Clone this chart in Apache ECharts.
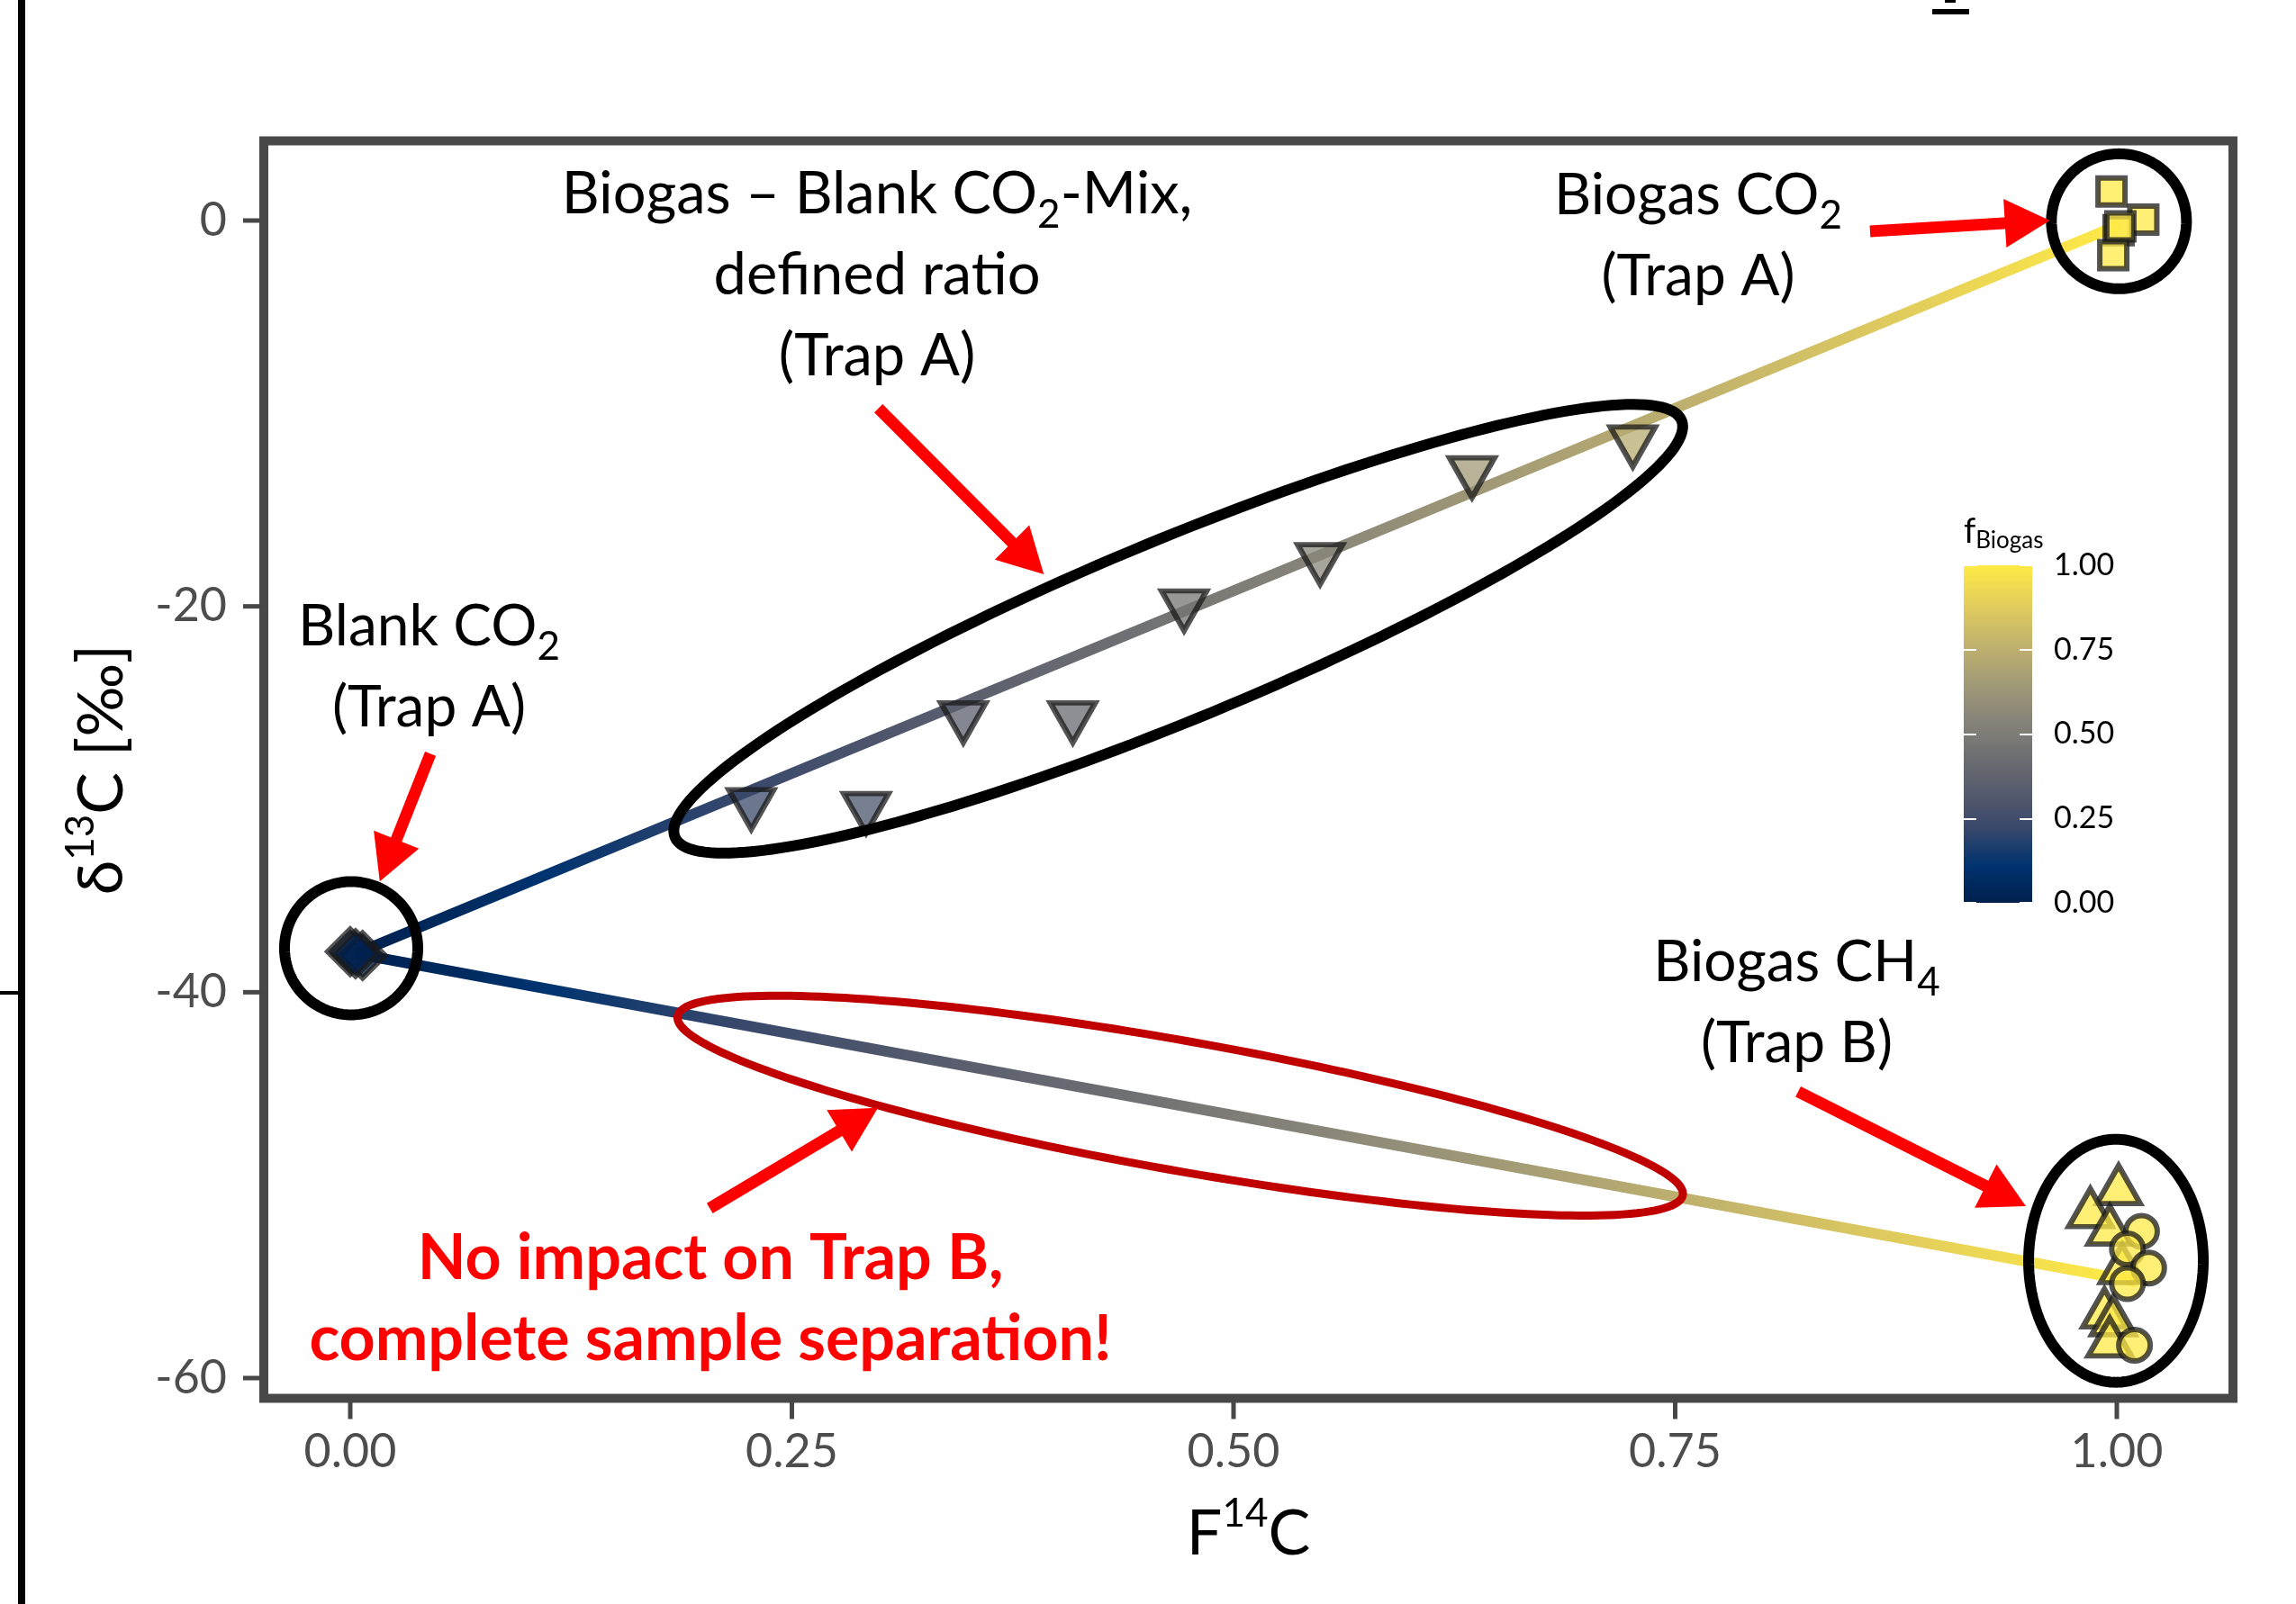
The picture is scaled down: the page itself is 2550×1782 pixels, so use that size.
<!DOCTYPE html>
<html>
<head>
<meta charset="utf-8">
<script src="https://cdn.jsdelivr.net/npm/echarts@6/dist/echarts.min.js"></script>
<style>
html, body { margin: 0; padding: 0; background: #fff; }
#main { width: 2550px; height: 1782px; }
</style>
</head>
<body>
<div id="main"></div>
<script>
// tick labels
var xTicks = [0, 0.25, 0.5, 0.75, 1];
var yTicks = [-60, -40, -20, 0];
var barTicks = [0, 0.25, 0.5, 0.75, 1];
var xRange = [-0.04893, 1.06575];
var yRange = [-61.05, 4.129];

// points: [F14C, d13C, fBiogas]
var blankCO2 = [[0.000, -37.9, 0], [0.007, -38.1, 0], [0.003, -38.0, 0]];
var mixCO2 = [
  [0.227, -30.2, 0.23], [0.292, -30.4, 0.29], [0.347, -25.7, 0.35], [0.409, -25.7, 0.41],
  [0.472, -19.9, 0.47], [0.549, -17.5, 0.55], [0.635, -13.0, 0.64], [0.726, -11.4, 0.73]
];
var biogasCO2 = [[0.997, 1.5, 1], [1.015, 0.05, 1], [1.001, -0.5, 1], [1.002, -0.3, 1], [0.998, -1.8, 1]];
var biogasCH4 = [[1.001, -50.3, 1], [0.985, -51.5, 1], [0.996, -52.4, 1], [1.003, -54.4, 1],
  [0.993, -56.7, 1], [0.998, -57.1, 1], [0.996, -58.2, 1]];
var biogasCH4b = [[1.014, -52.4, 1], [1.006, -53.3, 1], [1.018, -54.3, 1], [1.006, -55.1, 1], [1.010, -58.3, 1]];

// mixing lines blank -> biogas
var mixLineA = [[0.003, -38.0], [1.002, -0.2]];
var mixLineB = [[0.003, -38.0], [1.011, -55.0]];

var cividis = ['#00204D', '#00336F', '#39486B', '#575C6D', '#707173', '#8A8779', '#A69D75', '#C4B56C', '#E4CF5B', '#FFEA46'];

// annotations (centres in data units, sizes in px)
var rings = [
  { at: [0.0005, -37.72], rx: 74, ry: 74, tilt: 0, color: '#000000', width: 12 },
  { at: [1.0012, -0.04], rx: 75, ry: 75, tilt: 0, color: '#000000', width: 12 },
  { at: [0.9995, -53.92], rx: 97, ry: 135, tilt: 0, color: '#000000', width: 12 },
  { at: [0.4687, -21.16], rx: 605, ry: 100, tilt: -22.5, color: '#000000', width: 12 },
  { at: [0.4698, -45.88], rx: 567, ry: 72, tilt: 10.1, color: '#C00000', width: 9 }
];
var arrows = [
  { from: [0.8603, -0.56], to: [0.9621, 0.0] },
  { from: [0.299, -9.73], to: [0.3926, -18.34] },
  { from: [0.0454, -27.64], to: [0.0167, -34.26] },
  { from: [0.8196, -45.15], to: [0.9485, -51.09] },
  { from: [0.2035, -51.2], to: [0.2987, -45.99] }
];
var notes = [
  { at: [0.2982, -2.85], text: 'Biogas – Blank CO{s|2}-Mix,\ndefined ratio\n(Trap A)', color: '#000000', size: 65, bold: false },
  { at: [0.7630, -0.79], text: 'Biogas CO{s|2}\n(Trap A)', color: '#000000', size: 64, bold: false },
  { at: [0.0446, -23.14], text: 'Blank CO{s|2}\n(Trap A)', color: '#000000', size: 64, bold: false },
  { at: [0.8188, -40.54], text: 'Biogas CH{s|4}\n(Trap B)', color: '#000000', size: 64, bold: false },
  { at: [0.2039, -55.91], text: 'No impact on Trap B,\ncomplete sample separation!', color: '#FF0000', size: 70, bold: true }
];

var FONT = 'Lato';
var TICK_LEN = 23;
var chart = echarts.init(document.getElementById('main'));

function ellipsePoints(c, r) {
  var pts = [];
  var phi = r.tilt * Math.PI / 180;
  for (var k = 0; k < 200; k++) {
    var t = k / 200 * Math.PI * 2;
    var ex = r.rx * Math.cos(t), ey = r.ry * Math.sin(t);
    pts.push([c[0] + ex * Math.cos(phi) - ey * Math.sin(phi), c[1] + ex * Math.sin(phi) + ey * Math.cos(phi)]);
  }
  return pts;
}

function renderRing(params, api) {
  var r = rings[api.value(2)];
  var c = api.coord([api.value(0), api.value(1)]);
  return {
    type: 'polygon',
    shape: { points: ellipsePoints(c, r) },
    style: { fill: 'none', stroke: r.color, lineWidth: r.width }
  };
}

function renderArrow(params, api) {
  var a = arrows[api.value(2)];
  var p0 = api.coord(a.from), p1 = api.coord(a.to);
  var dx = p1[0] - p0[0], dy = p1[1] - p0[1];
  var len = Math.sqrt(dx * dx + dy * dy);
  var ux = dx / len, uy = dy / len;
  var head = 50, half = 27;
  var bx = p1[0] - ux * head, by = p1[1] - uy * head;
  return {
    type: 'group',
    children: [
      { type: 'line', shape: { x1: p0[0], y1: p0[1], x2: bx + ux * 3, y2: by + uy * 3 },
        style: { stroke: '#FF0000', lineWidth: 13 } },
      { type: 'polygon', shape: { points: [[p1[0], p1[1]], [bx - uy * half, by + ux * half], [bx + uy * half, by - ux * half]] },
        style: { fill: '#FF0000' } }
    ]
  };
}

function renderNote(params, api) {
  var n = notes[api.value(2)];
  var p = api.coord([api.value(0), api.value(1)]);
  var w = n.bold ? 'bold' : 'normal';
  return {
    type: 'text',
    x: p[0],
    y: p[1],
    style: {
      text: n.text,
      fill: n.color,
      fontFamily: FONT,
      fontSize: n.size,
      fontWeight: w,
      align: 'center',
      verticalAlign: 'middle',
      lineHeight: 90,
      rich: {
        s: { fill: n.color, fontFamily: FONT, fontSize: 44, fontWeight: w, verticalAlign: 'bottom', lineHeight: 52 }
      }
    }
  };
}

// outside tick marks on the frame (0 = bottom axis, 1 = left axis)
function renderTick(params, api) {
  var p = api.coord([api.value(0), api.value(1)]);
  var vertical = api.value(2) === 0;
  return {
    type: 'line',
    shape: vertical
      ? { x1: p[0], y1: p[1], x2: p[0], y2: p[1] + TICK_LEN }
      : { x1: p[0] - TICK_LEN, y1: p[1], x2: p[0], y2: p[1] },
    style: { stroke: '#474747', lineWidth: 5 }
  };
}

function renderBar(params, api) {
  var p0 = api.coord([api.value(0), api.value(1)]);
  var p1 = api.coord([api.value(2), api.value(3)]);
  var stops = cividis.map(function (c, i) { return { offset: i / (cividis.length - 1), color: c }; });
  return {
    type: 'rect',
    shape: { x: p0[0], y: p1[1], width: p1[0] - p0[0], height: p0[1] - p1[1] },
    style: { fill: new echarts.graphic.LinearGradient(0, 1, 0, 0, stops) }
  };
}

var pointStyle = { opacity: 0.75, borderColor: '#1a1a1a', borderWidth: 6 };

var tickData = xTicks.map(function (v) { return [v, yRange[0], 0]; })
  .concat(yTicks.map(function (v) { return [xRange[0], v, 1]; }));

var options = {
  animation: false,
  backgroundColor: '#ffffff',
  grid: [
    { left: 293, top: 156.5, right: 70, bottom: 228.5, show: true, borderColor: '#484848', borderWidth: 10, backgroundColor: '#ffffff' },
    { left: 2181, top: 628, width: 76, height: 375 }
  ],
  xAxis: [
    {
      type: 'value', gridIndex: 0, position: 'bottom', min: xRange[0], max: xRange[1],
      axisLine: { show: false, onZero: false },
      splitLine: { show: false },
      axisTick: { show: false },
      axisLabel: {
        customValues: xTicks, margin: 34, fontFamily: FONT, fontSize: 52, color: '#4d4d4d',
        formatter: function (v) { return v.toFixed(2); }
      },
      name: 'F{sup|14}C', nameLocation: 'middle', nameGap: 106,
      nameTextStyle: {
        fontFamily: FONT, fontSize: 70, color: '#000', lineHeight: 90,
        rich: { sup: { fontFamily: FONT, fontSize: 44, color: '#000', verticalAlign: 'top', lineHeight: 46 } }
      }
    },
    { type: 'value', gridIndex: 1, min: 0, max: 1, show: false }
  ],
  yAxis: [
    {
      type: 'value', gridIndex: 0, position: 'left', min: yRange[0], max: yRange[1],
      axisLine: { show: false, onZero: false },
      splitLine: { show: false },
      axisTick: { show: false },
      axisLabel: {
        customValues: yTicks, margin: 41, fontFamily: FONT, fontSize: 52, color: '#4d4d4d',
        formatter: function (v) { return String(v); }
      },
      name: 'δ{sup|13}C [‰]', nameLocation: 'middle', nameRotate: 90, nameGap: 135,
      nameTextStyle: {
        fontFamily: FONT, fontSize: 70, color: '#000', lineHeight: 90,
        rich: { sup: { fontFamily: FONT, fontSize: 44, color: '#000', verticalAlign: 'top', lineHeight: 46 } }
      }
    },
    {
      type: 'value', gridIndex: 1, position: 'right', min: 0, max: 1, interval: 0.25, z: 5,
      axisLine: { show: false, onZero: false },
      splitLine: { show: false },
      axisTick: { show: true, inside: true, length: 14, lineStyle: { color: '#ffffff', width: 2 } },
      axisLabel: {
        margin: 24, fontFamily: FONT, fontSize: 34, color: '#000',
        formatter: function (v) { return v.toFixed(2); }
      }
    },
    {
      type: 'value', gridIndex: 1, position: 'left', min: 0, max: 1, interval: 0.25, z: 5,
      axisLine: { show: false, onZero: false },
      splitLine: { show: false },
      axisTick: { show: true, inside: true, length: 14, lineStyle: { color: '#ffffff', width: 2 } },
      axisLabel: { show: false },
      name: 'f{b|Biogas}', nameLocation: 'end', nameGap: 14,
      nameTextStyle: {
        fontFamily: FONT, fontSize: 38, color: '#000', align: 'left', verticalAlign: 'bottom', lineHeight: 46,
        rich: { b: { fontFamily: FONT, fontSize: 26, color: '#000', verticalAlign: 'bottom', lineHeight: 30 } }
      }
    }
  ],
  visualMap: [
    {
      type: 'continuous', show: false, seriesIndex: [0, 1], dimension: 0, min: 0, max: 1,
      inRange: { color: cividis }, outOfRange: { color: ['#FFEA46'] }
    },
    {
      type: 'continuous', show: false, seriesIndex: [2, 3, 4, 5, 6], dimension: 2, min: 0, max: 1,
      inRange: { color: cividis }
    }
  ],
  series: [
    { type: 'line', data: mixLineA, showSymbol: false, silent: true, z: 1, lineStyle: { width: 12 } },
    { type: 'line', data: mixLineB, showSymbol: false, silent: true, z: 1, lineStyle: { width: 12 } },
    { type: 'scatter', data: blankCO2, symbol: 'diamond', symbolSize: 50, itemStyle: pointStyle, z: 3 },
    { type: 'scatter', data: mixCO2, symbol: 'triangle', symbolRotate: 180, symbolSize: [50, 44], symbolOffset: [0, 7], itemStyle: pointStyle, z: 3 },
    { type: 'scatter', data: biogasCO2, symbol: 'rect', symbolSize: 30, itemStyle: pointStyle, z: 3 },
    { type: 'scatter', data: biogasCH4, symbol: 'triangle', symbolSize: [48, 42], symbolOffset: [0, -7], itemStyle: pointStyle, z: 3 },
    { type: 'scatter', data: biogasCH4b, symbol: 'circle', symbolSize: 35, itemStyle: pointStyle, z: 3 },
    {
      type: 'custom', silent: true, z: 10, renderItem: renderRing,
      data: rings.map(function (r, i) { return [r.at[0], r.at[1], i]; })
    },
    {
      type: 'custom', silent: true, z: 11, renderItem: renderArrow,
      data: arrows.map(function (a, i) { return [a.from[0], a.from[1], i]; })
    },
    {
      type: 'custom', silent: true, z: 12, renderItem: renderNote,
      data: notes.map(function (n, i) { return [n.at[0], n.at[1], i]; })
    },
    {
      type: 'custom', silent: true, xAxisIndex: 1, yAxisIndex: 1, z: 1, renderItem: renderBar,
      data: [[barTicks[0], barTicks[0], 1, barTicks[barTicks.length - 1]]]
    },
    {
      type: 'custom', silent: true, clip: false, z: 0, renderItem: renderTick, data: tickData
    }
  ],
  // leftovers of the neighbouring panels at the figure edges
  graphic: [
    { type: 'rect', shape: { x: 20, y: 0, width: 8, height: 1782 }, style: { fill: '#000' }, silent: true },
    { type: 'line', shape: { x1: 0, y1: 1103, x2: 22, y2: 1103 }, style: { stroke: '#000', lineWidth: 4 }, silent: true },
    { type: 'rect', shape: { x: 2146, y: 10, width: 41, height: 6 }, style: { fill: '#000' }, silent: true },
    { type: 'rect', shape: { x: 2160, y: 0, width: 12, height: 3 }, style: { fill: '#000' }, silent: true }
  ]
};

chart.setOption(options);
</script>
</body>
</html>
